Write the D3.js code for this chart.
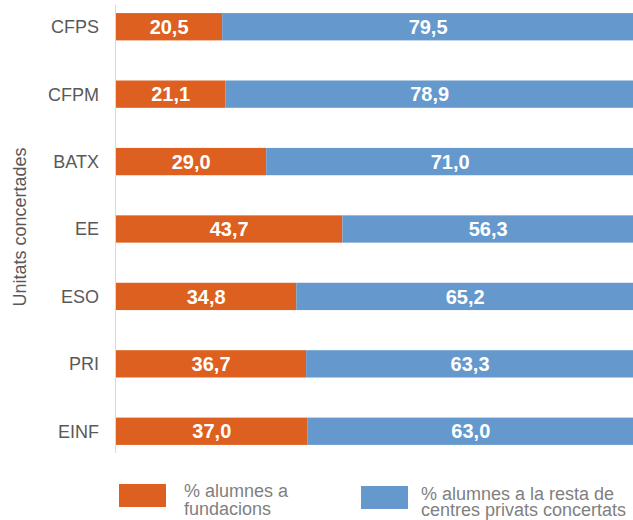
<!DOCTYPE html>
<html>
<head>
<meta charset="utf-8">
<script src="https://cdn.jsdelivr.net/npm/d3@7"></script>
<style>
  html, body { margin: 0; padding: 0; background: #fff; }
  svg { display: block; font-family: "Liberation Sans", Arial, sans-serif; }
</style>
</head>
<body>
<script>
const categories = ["CFPS", "CFPM", "BATX", "EE", "ESO", "PRI", "EINF"];
const fundacions = [20.5, 21.1, 29.0, 43.7, 34.8, 36.7, 37.0];
const restaPrivats = [79.5, 78.9, 71.0, 56.3, 65.2, 63.3, 63.0];
const seriesNames = ["% alumnes a fundacions", "% alumnes a la resta de centres privats concertats"];
const legendLines = [["% alumnes a", "fundacions"], ["% alumnes a la resta de", "centres privats concertats"]];
const yTitle = "Unitats concertades";
const colors = ["#DD6020", "#6598CC"];

const W = 633, H = 520;
const svg = d3.select("body").append("svg").attr("width", W).attr("height", H);

const x = d3.scaleLinear().domain([0, 100]).range([116, 634]);
const y = d3.scaleBand().domain(categories).range([5, 453]).paddingInner(0.595).paddingOuter(0.12);

const fmt = v => d3.format(".1f")(v).replace(".", ",");

const rows = categories.map((c, i) => ({ cat: c, a: fundacions[i], b: restaPrivats[i] }));
const stack = d3.stack().keys(["a", "b"])(rows);

// axis line
svg.append("line")
  .attr("x1", x(0) - 0.5).attr("x2", x(0) - 0.5)
  .attr("y1", y.range()[0]).attr("y2", y.range()[1])
  .attr("stroke", "#d9d9d9").attr("stroke-width", 1);

stack.forEach((layer, li) => {
  const g = svg.append("g");
  g.selectAll("rect").data(layer).join("rect")
    .attr("x", d => x(d[0]))
    .attr("width", d => x(d[1]) - x(d[0]))
    .attr("y", d => y(d.data.cat))
    .attr("height", y.bandwidth())
    .attr("fill", colors[li]);
  g.selectAll("text").data(layer).join("text")
    .attr("x", d => (x(d[0]) + x(d[1])) / 2)
    .attr("y", d => y(d.data.cat) + y.bandwidth() / 2)
    .attr("dy", "0.36em")
    .attr("text-anchor", "middle")
    .attr("fill", "#fff")
    .attr("font-weight", "bold")
    .attr("font-size", 20)
    .text(d => fmt(d[1] - d[0]));
});

// category labels
svg.append("g").selectAll("text").data(categories).join("text")
  .attr("x", 99)
  .attr("y", d => y(d) + y.bandwidth() / 2)
  .attr("dy", "0.36em")
  .attr("text-anchor", "end")
  .attr("fill", "#595959")
  .attr("font-size", 18)
  .text(d => d);

// y title
svg.append("text")
  .attr("transform", "translate(26," + 227 + ") rotate(-90)")
  .attr("text-anchor", "middle")
  .attr("fill", "#595959")
  .attr("font-size", 18)
  .text(yTitle);

// legend
const legendItems = [
  { box: [119, 484, 47, 23], tx: 184, ty: 497, lh: 17.5 },
  { box: [361, 486, 47, 23], tx: 421, ty: 500, lh: 15.5 }
];
legendItems.forEach((it, i) => {
  svg.append("rect")
    .attr("x", it.box[0]).attr("y", it.box[1])
    .attr("width", it.box[2]).attr("height", it.box[3])
    .attr("fill", colors[i]);
  const t = svg.append("text")
    .attr("x", it.tx).attr("y", it.ty)
    .attr("fill", "#7f7f7f")
    .attr("font-size", 18);
  legendLines[i].forEach((ln, k) => {
    t.append("tspan").attr("x", it.tx).attr("y", it.ty + k * it.lh).text(ln);
  });
});
</script>
</body>
</html>
